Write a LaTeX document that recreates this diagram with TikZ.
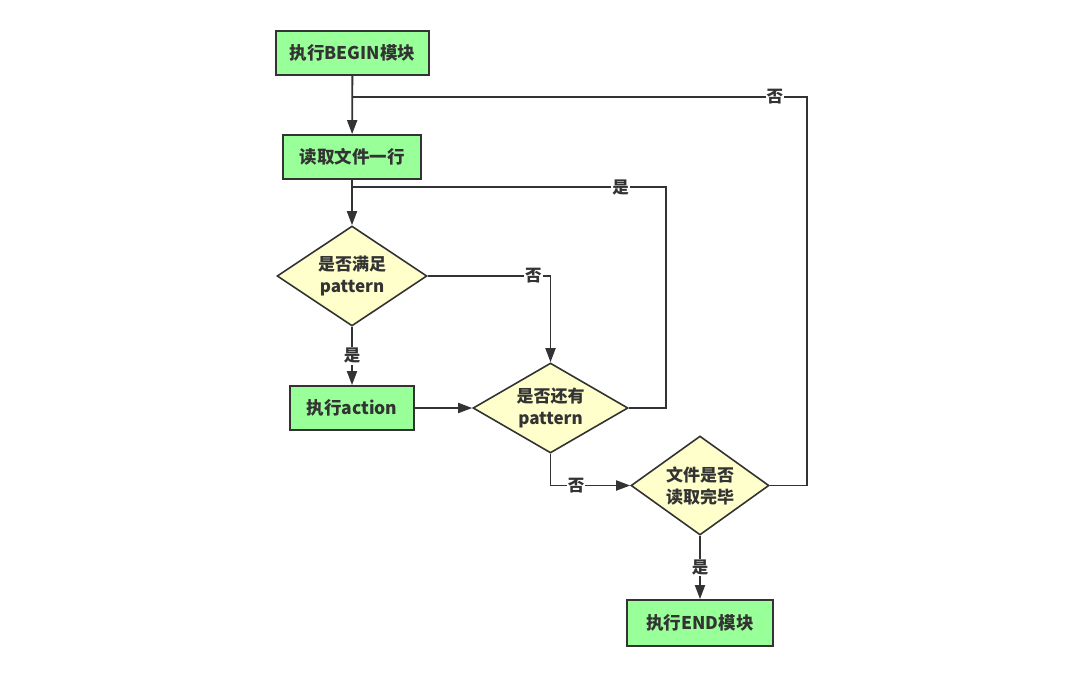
\documentclass[tikz,border=0pt]{standalone}
\usepackage{fontspec}
\setmainfont{Noto Sans CJK SC}
\usetikzlibrary{shapes.geometric,arrows.meta}
\definecolor{ink}{HTML}{333333}
\definecolor{boxgreen}{HTML}{99FF99}
\definecolor{dyellow}{HTML}{FFFFCC}
\begin{document}
\begin{tikzpicture}[x=1pt,y=-1pt,
  every node/.style={text=ink,font=\fontsize{17.5}{20}\selectfont\bfseries},
  proc/.style={draw=ink,line width=1.8pt,fill=boxgreen,rectangle,inner sep=0pt},
  dec/.style={draw=ink,line width=1.6pt,fill=dyellow,diamond,inner sep=-16pt,align=center,font=\fontsize{17}{22}\selectfont\bfseries},
  conn/.style={draw=ink,line width=1.8pt},
  arr/.style={conn,-{Triangle[length=14pt,width=10pt]}},
  lbl/.style={fill=white,inner sep=1pt,font=\fontsize{16.5}{18}\selectfont\bfseries}]
\useasboundingbox (0,0) rectangle (1071,689);
% nodes
\node[proc,minimum width=153pt,minimum height=44pt] (begin) at (352.5,53) {执行BEGIN模块};
\node[proc,minimum width=138pt,minimum height=44pt] (read) at (352,157) {读取文件一行};
\node[dec,minimum width=150pt,minimum height=100pt] (d1) at (352,276) {是否满足\\pattern};
\node[proc,minimum width=124pt,minimum height=44pt] (act) at (352,408) {执行action};
\node[dec,minimum width=155pt,minimum height=90pt] (d2) at (550.5,408) {是否还有\\pattern};
\node[dec,minimum width=138pt,minimum height=99pt] (d3) at (700,485.5) {文件是否\\读取完毕};
\node[proc,minimum width=146pt,minimum height=46pt] (end) at (700,623) {执行END模块};
% helper coordinates
\coordinate (j1) at (352,97);
\coordinate (j2) at (352,187);
% connectors
\draw[arr] (begin) -- (read);
\draw[arr] (read) -- (d1);
\draw[arr] (d1) -- node[lbl] {是} (act);
\draw[arr] (act) -- (d2);
\draw[arr] (d1.east) -| node[lbl,pos=0.43] {否} (d2.north);
\draw[arr] (d2.south) |- node[lbl,pos=0.66] {否} (d3.west);
\draw[arr] (d3) -- node[lbl] {是} (end);
\draw[conn] (d2.east) -- ++(37,0) |- node[lbl,pos=0.572] {是} (j2);
\draw[conn] (d3.east) -- ++(37,0) |- node[lbl,pos=0.535] {否} (j1);
\end{tikzpicture}
\end{document}
